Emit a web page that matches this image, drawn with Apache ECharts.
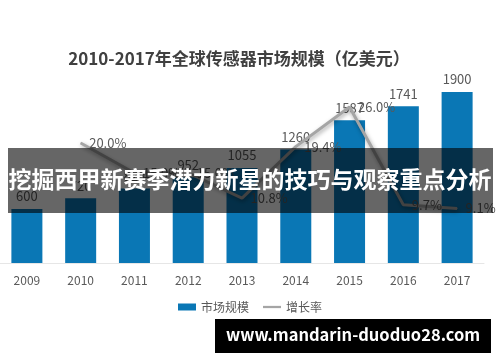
<!DOCTYPE html>
<html><head><meta charset="utf-8">
<script src="https://cdn.jsdelivr.net/npm/echarts@6/dist/echarts.min.js"></script>
<style>html,body{margin:0;padding:0;background:#fff}#c{width:500px;height:362px}</style>
</head><body><div id="c"></div>
<script>
var years = ['2009','2010','2011','2012','2013','2014','2015','2016','2017'];
var marketSize = [600, 720, 828, 952, 1055, 1260, 1587, 1741, 1900];
var growthRate = [null, 20.0, 15.0, 15.0, 10.8, 19.4, 26.0, 9.7, 9.1];
var titleText = '2010-2017年全球传感器市场规模（亿美元）';
var bannerText = '挖掘西甲新赛季潜力新星的技巧与观察重点分析';
var watermarkText = 'www.mandarin-duoduo28.com';
var FONT = '"Noto Sans CJK SC", "Noto Sans", sans-serif';

var chart = echarts.init(document.getElementById('c'), null, {renderer: 'canvas'});
chart.setOption({
  animation: false,
  textStyle: {fontFamily: FONT},
  title: {
    text: titleText, left: 234, top: 45, textAlign: 'center',
    textStyle: {fontSize: 17, fontWeight: 'bold', color: '#404040', fontFamily: FONT}
  },
  legend: {
    bottom: 44, left: 'center', itemGap: 14,
    textStyle: {fontSize: 12, color: '#595959', fontFamily: FONT},
    data: [
      {name: '市场规模', icon: 'rect', itemStyle: {color: '#0a77b5'}},
      {name: '增长率', icon: 'path://M0,0 L20,0 L20,2.5 L0,2.5 Z', itemStyle: {color: '#a5a5a5'}}
    ],
    itemWidth: 18, itemHeight: 7
  },
  grid: {left: -5, right: 16, top: 83, bottom: 99, containLabel: false},
  xAxis: {
    type: 'category', data: years,
    axisLine: {lineStyle: {color: '#e6e6e6', width: 1}},
    axisTick: {show: false},
    axisLabel: {color: '#595959', fontSize: 12, margin: 11, fontFamily: FONT}
  },
  yAxis: [
    {type: 'value', min: 0, max: 2000, show: false, splitLine: {show: false}},
    {type: 'value', min: 0, max: 30, show: false, splitLine: {show: false}}
  ],
  series: [
    {
      name: '市场规模', type: 'bar', data: marketSize, barWidth: 31,
      itemStyle: {color: '#0a77b5'},
      label: {show: true, position: 'top', distance: 6, color: '#595959', fontSize: 13, fontFamily: FONT}
    },
    {
      name: '增长率', type: 'line', yAxisIndex: 1, data: growthRate,
      symbol: 'circle', symbolSize: 1, showSymbol: true, connectNulls: false,
      lineStyle: {color: '#a5a5a5', width: 3, shadowColor: 'rgba(0,0,0,0.35)', shadowBlur: 4, shadowOffsetX: 1, shadowOffsetY: 2},
      itemStyle: {color: '#a5a5a5'},
      label: {show: true, position: 'right', distance: 8, color: '#595959', fontSize: 13, fontFamily: FONT,
        formatter: function (p) { return p.value == null ? '' : p.value.toFixed(1) + '%'; }}
    }
  ],
  graphic: [
    {type: 'rect', left: 8, top: 148, shape: {width: 485, height: 65}, style: {fill: 'rgba(0,0,0,0.6)'}, z: 100},
    {type: 'text', left: 'center', top: 168, style: {text: bannerText, fill: '#fff', font: 'bold 23px ' + FONT}, z: 101},
    {type: 'rect', left: 215, top: 319, shape: {width: 276, height: 34}, style: {fill: '#000'}, z: 100},
    {type: 'text', left: 226, top: 326, style: {text: watermarkText, fill: '#fff', font: 'bold 16.5px ' + FONT}, z: 101}
  ]
});
</script></body></html>
